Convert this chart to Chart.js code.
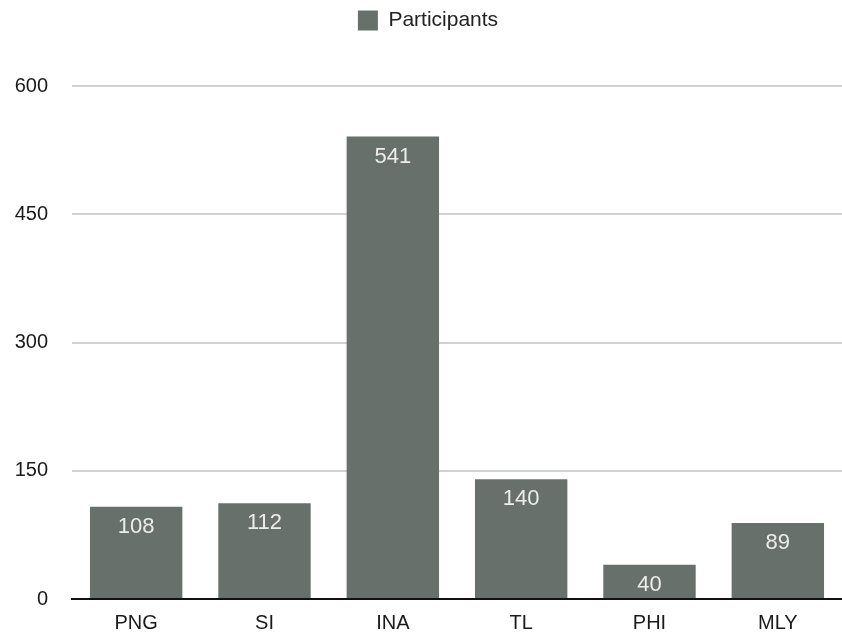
<!DOCTYPE html>
<html>
<head>
    <title>Participants</title>
    <script src="https://cdn.jsdelivr.net/npm/chart.js"></script>
    <style>
        html, body { margin: 0; padding: 0; background: #fff; }
        #wrap { width: 842px; height: 635px; }
    </style>
</head>
<body>
    <div id="wrap"><canvas id="participantsChart"></canvas></div>

    <script>
        var countries = ['PNG', 'SI', 'INA', 'TL', 'PHI', 'MLY'];
        var participants = [108, 112, 541, 140, 40, 89];
        var yTicks = [0, 150, 300, 450, 600];

        var barColor = '#67706a';
        var fontFamily = '"Liberation Sans", Arial, Helvetica, sans-serif';

        // push the plot down below the legend
        var legendSpacer = {
            id: 'legendSpacer',
            beforeInit: function(chart) {
                var fit = chart.legend.fit;
                chart.legend.fit = function() {
                    fit.call(this);
                    this.height += 45;
                };
            }
        };

        // value labels inside the top of each bar
        var barValues = {
            id: 'barValues',
            afterDatasetsDraw: function(chart) {
                var ctx = chart.ctx;
                var meta = chart.getDatasetMeta(0);
                ctx.save();
                ctx.font = '22px ' + fontFamily;
                ctx.fillStyle = '#ececec';
                ctx.textAlign = 'center';
                ctx.textBaseline = 'middle';
                meta.data.forEach(function(bar, i) {
                    ctx.fillText(String(participants[i]), bar.x, bar.y + 20);
                });
                ctx.restore();
            }
        };

        var ctx = document.getElementById('participantsChart').getContext('2d');
        var chart = new Chart(ctx, {
            type: 'bar',
            data: {
                labels: countries,
                datasets: [{
                    label: 'Participants',
                    data: participants,
                    backgroundColor: barColor,
                    borderWidth: 0,
                    categoryPercentage: 1,
                    barPercentage: 0.72
                }]
            },
            options: {
                responsive: true,
                maintainAspectRatio: false,
                animation: false,
                layout: { padding: { top: 0, right: 0, bottom: 0, left: 14 } },
                plugins: {
                    legend: {
                        position: 'top',
                        labels: {
                            boxWidth: 20,
                            boxHeight: 20,
                            padding: 10,
                            color: '#222',
                            font: { family: fontFamily, size: 21 }
                        }
                    },
                    tooltip: { enabled: false }
                },
                scales: {
                    x: {
                        afterFit: function(scale) {
                            scale.height = 30;
                        },
                        grid: { display: false, drawTicks: false },
                        border: { color: '#111', width: 2 },
                        ticks: {
                            color: '#1a1a1a',
                            padding: 12,
                            font: { family: fontFamily, size: 20 }
                        }
                    },
                    y: {
                        min: 0,
                        max: 600,
                        afterBuildTicks: function(scale) {
                            scale.ticks = yTicks.map(function(v) { return { value: v }; });
                        },
                        afterFit: function(scale) {
                            scale.width = 58;
                        },
                        grid: { color: '#d2d2d2', lineWidth: 2, drawTicks: false },
                        border: { display: false },
                        ticks: {
                            color: '#1a1a1a',
                            padding: 24,
                            font: { family: fontFamily, size: 20 }
                        }
                    }
                }
            },
            plugins: [legendSpacer, barValues]
        });
    </script>
</body>
</html>
